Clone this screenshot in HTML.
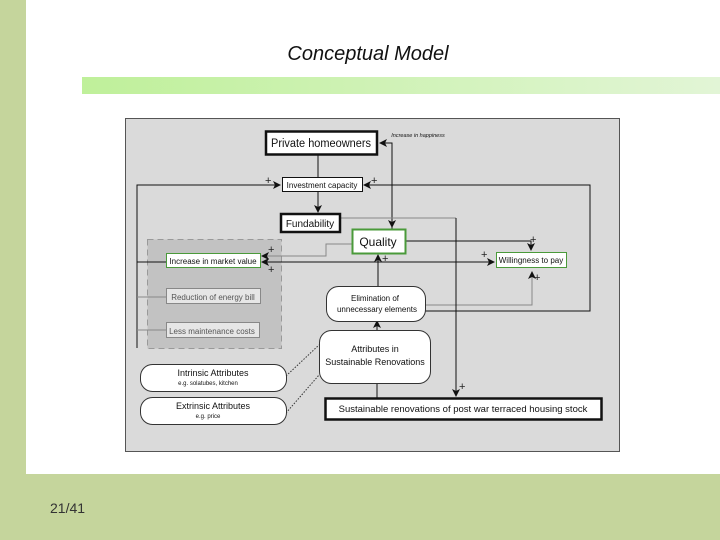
<!DOCTYPE html>
<html><head><meta charset="utf-8"><style>
html,body{margin:0;padding:0;width:720px;height:540px;overflow:hidden;background:#fff;font-family:"Liberation Sans",sans-serif}
</style></head><body>
<svg width="720" height="540" xmlns="http://www.w3.org/2000/svg" style="position:absolute;left:0;top:0">
<defs>
<linearGradient id="g" x1="0" x2="1"><stop offset="0" stop-color="#bff09a"/><stop offset="1" stop-color="#e2f5d6"/></linearGradient>
<marker id="a" markerWidth="8" markerHeight="8" refX="7" refY="4" orient="auto" markerUnits="userSpaceOnUse"><path d="M0,0 L8,4 L0,8 L2,4z" fill="#111"/></marker>
</defs>
<rect x="0" y="0" width="26" height="540" fill="#c5d59c"/>
<rect x="0" y="474" width="720" height="66" fill="#c5d59c"/>
<text x="50" y="513" font-family="Liberation Sans,sans-serif" font-size="14" fill="#333">21/41</text>
<text x="368" y="60" text-anchor="middle" font-size="20" font-style="italic" fill="#111">Conceptual Model</text>
<rect x="82" y="77" width="638" height="17" fill="url(#g)"/>
<rect x="125.5" y="118.5" width="494" height="333" fill="#dadada" stroke="#555"/>
<rect x="147.5" y="239.5" width="134" height="109" fill="#c2c2c2" stroke="#999" stroke-dasharray="6,4"/>
<g fill="none" stroke-width="1">
<path d="M137,348 V185 H280" stroke="#111" marker-end="url(#a)"/>
<path d="M137,262 H166" stroke="#111"/>
<path d="M137,297 H166 M137,330 H166" stroke="#888"/>
<path d="M425,311 H590 V185 H364" stroke="#111" marker-end="url(#a)"/>
<path d="M425,305 H532 V272" stroke="#888" marker-end="url(#a)"/>
<path d="M405,241 H531 V250" stroke="#111" marker-end="url(#a)"/>
<path d="M270,262 H494" stroke="#111" marker-end="url(#a)"/>
<path d="M300,262 H262" stroke="#111" marker-end="url(#a)"/>
<path d="M352,244 H326 V256 H262" stroke="#888" marker-end="url(#a)"/>
<path d="M392,229 V143 H380" stroke="#111" marker-end="url(#a)"/>
<path d="M392,143 V227" stroke="#111" marker-end="url(#a)"/>
<path d="M318,155 V177" stroke="#111"/>
<path d="M318,191 V212" stroke="#111" marker-end="url(#a)"/>
<path d="M340,218 H456" stroke="#888"/>
<path d="M456,218 V396" stroke="#111" marker-end="url(#a)"/>
<path d="M378,286 V255" stroke="#111" marker-end="url(#a)"/>
<path d="M377,330 V321" stroke="#111" marker-end="url(#a)"/>
<path d="M377,383 V398" stroke="#111"/>
<path d="M286,376 L319,345 M286,413 L319,375" stroke="#333" stroke-dasharray="1.5,1.5"/>
</g>
<g stroke="#111" fill="#fff">
<rect x="266" y="131.5" width="111" height="23" stroke-width="2.5"/>
<rect x="282.5" y="177.5" width="80" height="14"/>
<rect x="281" y="214" width="59" height="18" stroke-width="2.5"/>
<rect x="352.5" y="229.5" width="53" height="24" stroke="#4a9a3a" stroke-width="2"/>
<rect x="166.5" y="253.5" width="94" height="14" stroke="#4a9a3a"/>
<rect x="166.5" y="288.5" width="94" height="15" stroke="#888" fill="#e6e6e6"/>
<rect x="166.5" y="322.5" width="93" height="15" stroke="#888" fill="#e6e6e6"/>
<rect x="496.5" y="252.5" width="70" height="15" stroke="#4a9a3a"/>
<rect x="326.5" y="286.5" width="99" height="35" rx="12" stroke="#333"/>
<rect x="319.5" y="330.5" width="111" height="53" rx="12" stroke="#333"/>
<rect x="140.5" y="364.5" width="146" height="27" rx="12" stroke="#333"/>
<rect x="140.5" y="397.5" width="146" height="27" rx="12" stroke="#333"/>
<rect x="325.5" y="398.5" width="276" height="21" stroke-width="2.5"/>
</g>
<g font-family="Liberation Sans,sans-serif" fill="#111" text-anchor="middle">
<text x="321" y="147" font-size="11.5" textLength="100" lengthAdjust="spacingAndGlyphs">Private homeowners</text>
<text x="322" y="188" font-size="8">Investment capacity</text>
<text x="310" y="227" font-size="10">Fundability</text>
<text x="378" y="246" font-size="12">Quality</text>
<text x="213" y="264" font-size="8">Increase in market value</text>
<text x="213" y="300" font-size="8" fill="#555">Reduction of energy bill</text>
<text x="212" y="334" font-size="8" fill="#555">Less maintenance costs</text>
<text x="531" y="263" font-size="8">Willingness to pay</text>
<text x="375" y="301" font-size="8">Elimination of</text>
<text x="377" y="312" font-size="8">unnecessary elements</text>
<text x="375" y="352" font-size="9">Attributes in</text>
<text x="375" y="365" font-size="9">Sustainable Renovations</text>
<text x="213" y="376" font-size="9">Intrinsic Attributes</text>
<text x="208" y="385" font-size="6">e.g. solatubes, kitchen</text>
<text x="213" y="409" font-size="9">Extrinsic Attributes</text>
<text x="208" y="418" font-size="6">e.g. price</text>
<text x="463" y="412" font-size="9.5">Sustainable renovations of post war terraced housing stock</text>
<text x="418" y="137" font-size="5.5" font-style="italic">Increase in happiness</text>
</g>
<g font-family="Liberation Sans,sans-serif" font-size="11" fill="#222">
<text x="265" y="184">+</text><text x="371" y="184">+</text>
<text x="268" y="253">+</text><text x="268" y="273">+</text>
<text x="382" y="262">+</text><text x="481" y="258">+</text>
<text x="530" y="243">+</text><text x="534" y="281">+</text>
<text x="459" y="390">+</text>
</g>
</svg>
</body></html>
